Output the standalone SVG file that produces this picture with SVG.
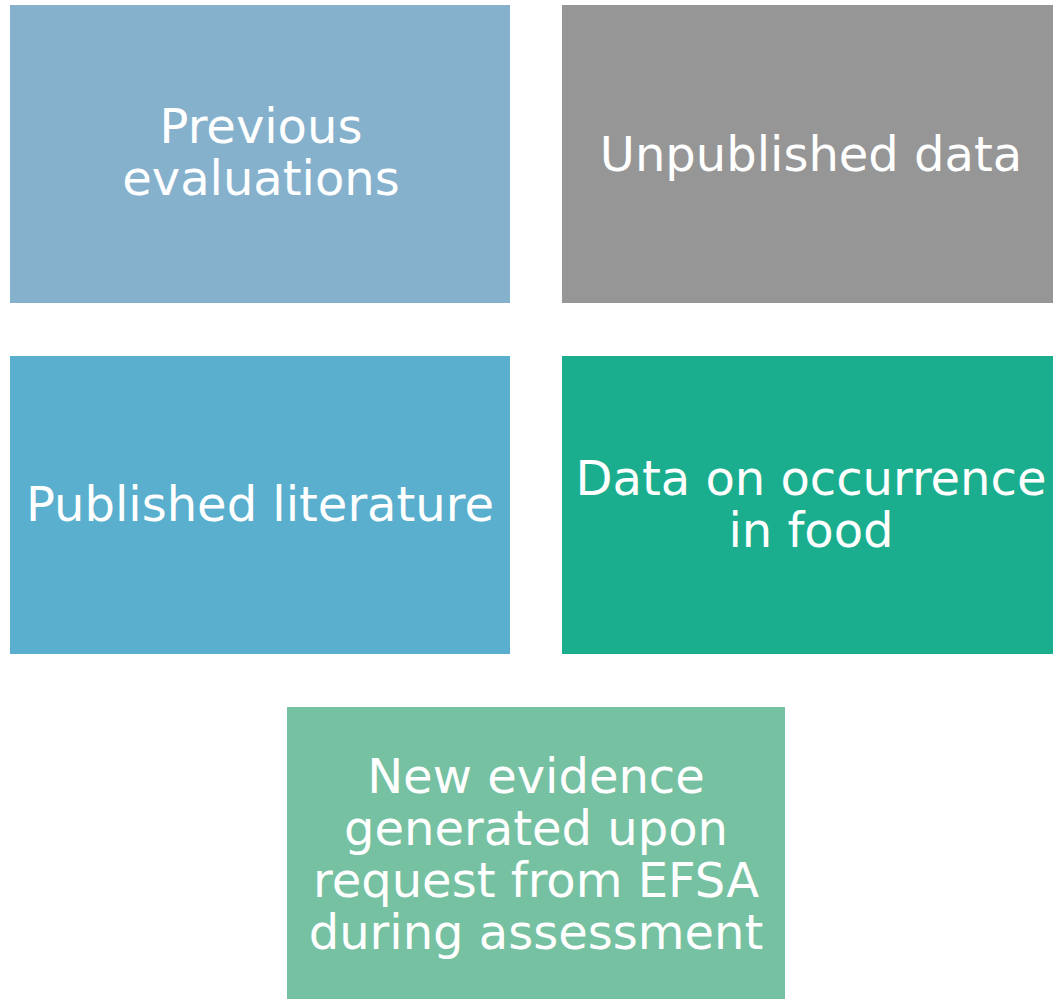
<svg xmlns="http://www.w3.org/2000/svg" width="1053" height="999" viewBox="0 0 1053 999">
  <style>
    .box { stroke: none; }
    .lbl { font-family: "DejaVu Sans", Verdana, sans-serif; font-size: 48px; fill: #ffffff; text-anchor: middle; }
  </style>
  <rect x="0" y="0" width="1053" height="999" fill="#ffffff"/>
  <g id="previous-evaluations">
    <rect class="box" x="10" y="5" width="500" height="298" fill="#85B1CD"/>
    <text class="lbl" x="261" y="143">Previous</text>
    <text class="lbl" x="261" y="195">evaluations</text>
  </g>
  <g id="unpublished-data">
    <rect class="box" x="562" y="5" width="491" height="298" fill="#969696"/>
    <text class="lbl" x="811" y="171">Unpublished data</text>
  </g>
  <g id="published-literature">
    <rect class="box" x="10" y="356" width="500" height="298" fill="#59AFCD"/>
    <text class="lbl" x="260" y="521">Published literature</text>
  </g>
  <g id="occurrence-data">
    <rect class="box" x="562" y="356" width="491" height="298" fill="#1BAE8E"/>
    <text class="lbl" x="811" y="495">Data on occurrence</text>
    <text class="lbl" x="811" y="547">in food</text>
  </g>
  <g id="new-evidence">
    <rect class="box" x="287" y="707" width="498" height="292" fill="#76C1A2"/>
    <text class="lbl" x="536" y="793">New evidence</text>
    <text class="lbl" x="536" y="845">generated upon</text>
    <text class="lbl" x="536" y="897">request from EFSA</text>
    <text class="lbl" x="536" y="949">during assessment</text>
  </g>
  <g id="connectors"/>
</svg>
